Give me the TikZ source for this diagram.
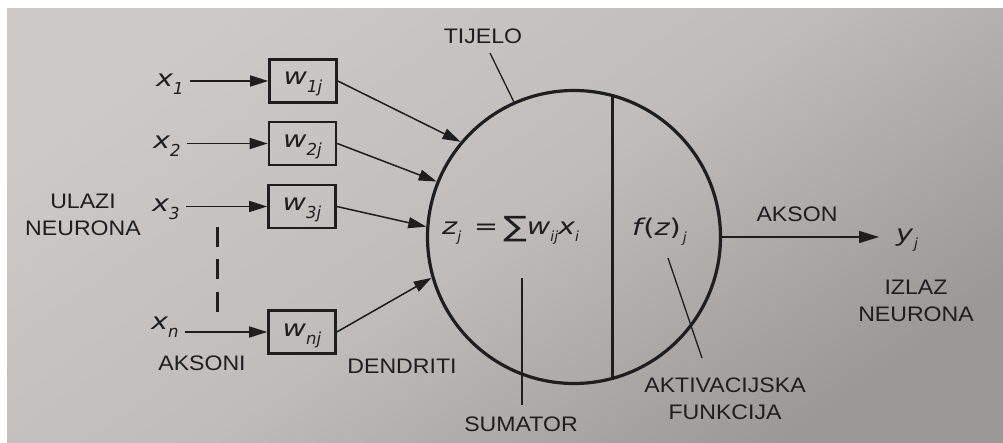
\documentclass[tikz,border=0pt]{standalone}
\usepackage{fontspec}
\setmainfont{Liberation Sans}[FakeStretch=1.1]
\newfontfamily\vfont{DejaVu Sans}[FakeStretch=1.25]
\newfontfamily\subfont{DejaVu Sans}
\usetikzlibrary{arrows.meta,calc}
\definecolor{ink}{HTML}{1E1E1E}
\definecolor{bgL}{HTML}{CCC9C7}
\definecolor{bgM}{HTML}{BFBCBA}
\definecolor{bgD}{HTML}{9B9895}
\newcommand{\V}[1]{{\vfont\itshape #1}}
\newcommand{\Sb}[1]{\raisebox{-8pt}{\fontsize{16.5}{16.5}\subfont\itshape #1}}
\newcommand{\Ss}[1]{\raisebox{-7pt}{\fontsize{14}{14}\subfont\itshape #1}}
\begin{document}
\begin{tikzpicture}[x=1pt,y=-1pt,
  lbl/.style={font=\fontsize{21}{27}\selectfont, text=ink, align=center, inner sep=0pt},
  var/.style={font=\fontsize{23}{26}\selectfont, text=ink, inner sep=0pt},
  wbox/.style={draw=ink, line width=2.6pt, minimum width=67pt, minimum height=43pt, inner sep=0pt, text height=12pt, text depth=4pt, font=\fontsize{23}{26}\selectfont, text=ink},
  arr/.style={draw=ink, line width=1.5pt, -{Triangle[length=18pt,width=11pt]}},
  bigarr/.style={draw=ink, line width=1.5pt, -{Triangle[length=20pt,width=12pt]}},
  lead/.style={draw=ink, line width=1.3pt},
  body/.style={circle, draw=ink, line width=3.2pt, minimum size=293pt, inner sep=0pt},
]
\useasboundingbox (0,0) rectangle (1003,443);
\fill[white] (0,0) rectangle (1003,443);
\shade[top color=bgL, bottom color=bgD, middle color=bgM, shading angle=35] (7,9) rectangle (1003,443);

% input labels
\node[var, anchor=base west] (x1) at (156,87) {\V{x}\Sb{1}};
\node[var, anchor=base west] (x2) at (153,149) {\V{x}\Sb{2}};
\node[var, anchor=base west] (x3) at (152,212) {\V{x}\Sb{3}};
\node[var, anchor=base west] (xn) at (151,330) {\V{x}\Sb{n}};

% weight boxes
\node[wbox] (w1) at (303,81) {\V{w}\Sb{1j}};
\node[wbox] (w2) at (302.5,143.5) {\V{w}\Sb{2j}};
\node[wbox] (w3) at (302,206.5) {\V{w}\Sb{3j}};
\node[wbox] (wn) at (302,332) {\V{w}\Sb{nj}};

% neuron body
\node[body] (n) at (574,237) {};
\draw[ink, line width=3pt] ($(n.center)+(38,-143)$) -- ($(n.center)+(38,143)$);

% formulas
\node[var, anchor=base west] (sumf) at (442,235) {\V{z}\Ss{j}\hspace{13pt}{\vfont =}\hspace{5pt}\raisebox{-2pt}{\fontsize{28}{28}\vfont ∑}\V{w}\Ss{ij}\V{x}\Ss{i}};
\node[var, anchor=base west] (fz) at (632,236) {\V{f}\hspace{1pt}{\vfont(}\V{z}{\vfont)}\hspace{2pt}\Ss{j}};
\node[var, anchor=base west] (yj) at (896,242) {\V{y}\hspace{1pt}\Ss{j}};

% arrows x -> w
\draw[arr] ([xshift=6pt]x1.east |- w1.west) -- (w1.west);
\draw[arr] ([xshift=6pt]x2.east |- w2.west) -- (w2.west);
\draw[arr] ([xshift=6pt]x3.east |- w3.west) -- (w3.west);
\draw[arr] ([xshift=6pt]xn.east |- wn.west) -- (wn.west);

% arrows w -> body
\draw[arr] (w1.east) -- (n.140.7);
\draw[arr] (w2.east) -- (n.158.1);
\draw[arr] (w3.east) -- (n.176);
\draw[arr] (wn.east) -- (n.196.6);

% output
\coordinate (yt) at (879,237);
\draw[bigarr] (n.0) -- (yt);

% dashed
\coordinate (dA) at (217,227);
\coordinate (dB) at (217,312);
\draw[ink, line width=3pt, dash pattern=on 20pt off 12.5pt] (dA) -- (dB);

% labels
\node[lbl] (ulazi) at (83,214.5) {ULAZI\\NEURONA};
\node[lbl] (aksoni) at (202,363) {AKSONI};
\node[lbl] (dendr) at (402,366) {DENDRITI};
\node[lbl] (tij) at (483,36) {TIJELO};
\node[lbl] (akson) at (797,214) {AKSON};
\node[lbl] (izlaz) at (916,300.5) {IZLAZ\\NEURONA};
\node[lbl] (sum) at (521,424.5) {SUMATOR};
\node[lbl] (akt) at (725,399) {AKTIVACIJSKA\\FUNKCIJA};

% leader lines
\coordinate (tA) at (490,53);
\draw[lead] (tA) -- (n.114.7);
\coordinate (sA) at (522,278);
\coordinate (sB) at (522,405);
\draw[lead] (sA) -- (sB);
\coordinate (aA) at (668,258);
\coordinate (aB) at (702,358);
\draw[lead] (aA) -- (aB);
\end{tikzpicture}
\end{document}
